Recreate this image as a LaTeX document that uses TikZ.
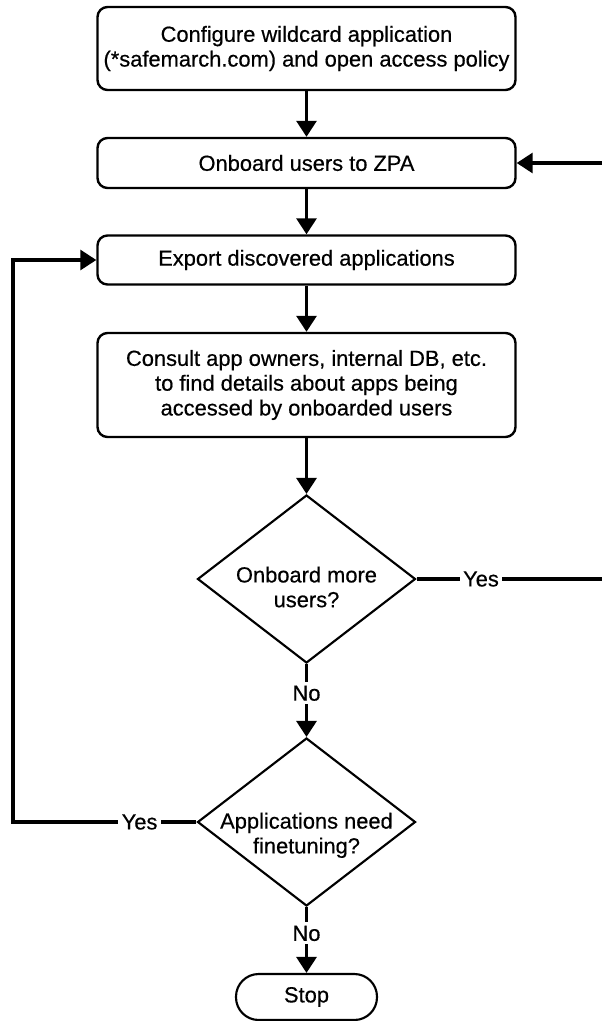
\documentclass[tikz,border=0pt]{standalone}
\usepackage{fontspec}
\setmainfont{Liberation Sans}[FakeBold=0.5]
\usetikzlibrary{shapes.geometric, arrows.meta}

\begin{document}
\begin{tikzpicture}[x=0.75pt, y=-0.75pt,
    every node/.style={font=\fontsize{16.4}{18.6}\selectfont},
    stepbox/.style={draw, line width=1.8pt, rounded corners=7.5pt, minimum width=313.5pt, align=center, inner sep=0pt},
    decision/.style={draw, diamond, line width=1.6pt, minimum width=163.5pt, minimum height=126pt, inner sep=0pt},
    question/.style={align=center, inner sep=0pt},
    terminal/.style={draw, line width=1.6pt, rounded corners=17pt, minimum width=105.75pt, minimum height=34.5pt, inner sep=0pt},
    flow/.style={line width=2.3pt, -{Triangle[width=15pt, length=12pt]}},
    tag/.style={fill=white, inner sep=2.5pt}]
    \useasboundingbox (0,0) rectangle (602,1021);
    \clip (0,0) rectangle (602,1021);

    % Main column
    \node[stepbox, minimum height=62.25pt] (configure) at (306.5,48.5) {Configure wildcard application\\(*safemarch.com) and open access policy};
    \node[stepbox, minimum height=37.5pt] (onboard) at (306.5,163) {Onboard users to ZPA};
    \node[stepbox, minimum height=36.75pt] (export) at (306.5,260) {Export discovered applications};
    \node[stepbox, minimum height=78pt] (consult) at (306.5,385) {Consult app owners, internal DB, etc.\\to find details about apps being\\accessed by onboarded users};

    % Decisions (text sits a bit below the middle)
    \node[decision, label={[question, yshift=-6pt]center:{Onboard more\\users?}}] (more) at (306.5,579) {};
    \node[decision, label={[question, yshift=-10pt]center:{Applications need\\finetuning?}}] (tune) at (306.5,822) {};
    \node[terminal] (stop) at (306.5,997) {Stop};

    % Straight arrows
    \draw[flow] (configure) -- (onboard);
    \draw[flow] (onboard) -- (export);
    \draw[flow] (export) -- (consult);
    \draw[flow] (consult) -- (more);
    \draw[flow] (more) -- node[tag, pos=0.4] {No} (tune);
    \draw[flow] (tune) -- node[tag, pos=0.4] {No} (stop);

    % Loops back
    \coordinate (rightturn) at (606,579);
    \coordinate (leftturn) at (13,822);
    \draw[flow] (more.east) -- node[tag, pos=0.34] {Yes} (rightturn) |- (onboard.east);
    \draw[flow] (tune.west) -- node[tag, pos=0.31] {Yes} (leftturn) |- (export.west);

\end{tikzpicture}
\end{document}
